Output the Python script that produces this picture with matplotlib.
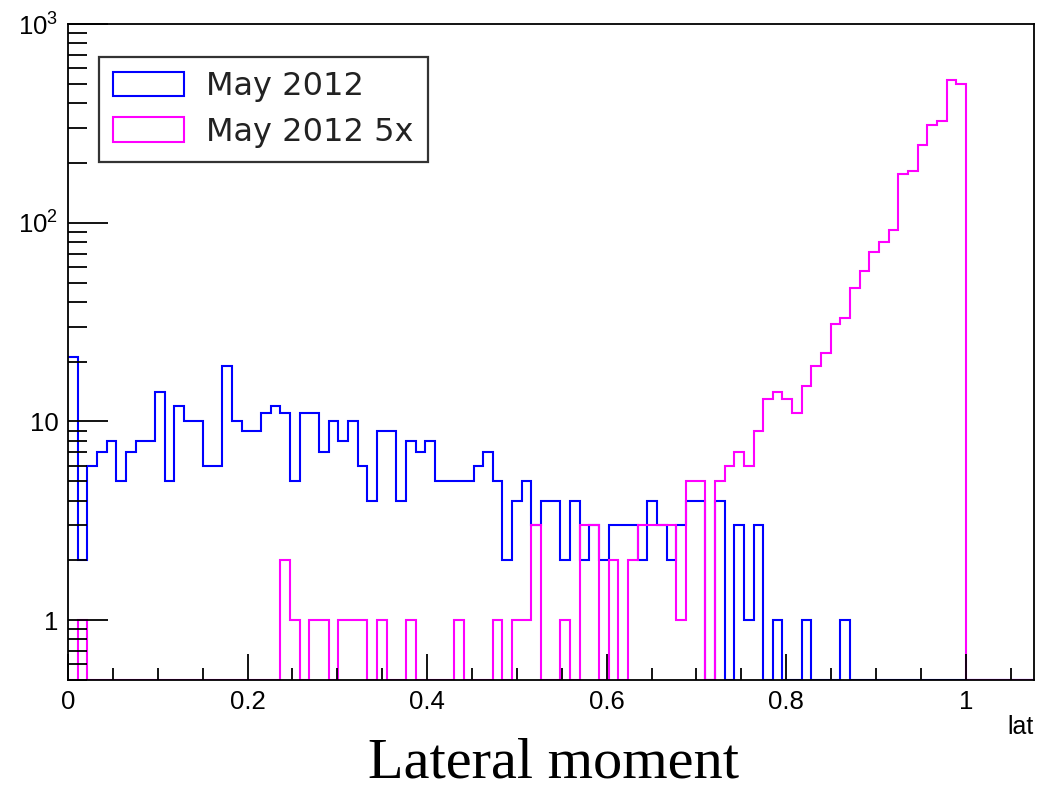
import matplotlib.pyplot as plt
import numpy as np
from matplotlib.patches import Patch
from matplotlib.ticker import FixedLocator, FuncFormatter, NullFormatter

# histogram range: 100 bins between 0 and the x-axis end
n_bins = 100
x_max = 1.0755

may2012 = [21, 2, 6, 7, 8, 5, 7, 8, 8, 14,
           5, 12, 10, 10, 6, 6, 19, 10, 9, 9,
           11, 12, 11, 5, 11, 11, 7, 10, 8, 10,
           6, 4, 9, 9, 4, 8, 7, 8, 5, 5,
           5, 5, 6, 7, 5, 2, 4, 5, 3, 4,
           4, 2, 4, 2, 3, 2, 3, 3, 3, 2,
           4, 3, 2, 3, 4, 4, 0, 4, 0, 3,
           1, 3, 0, 1, 0, 0, 1, 0, 0, 0,
           1, 0, 0, 0, 0, 0, 0, 0, 0, 0,
           0, 0, 0, 0, 0, 0, 0, 0, 0, 0]

may2012_5x = [0, 1, 0, 0, 0, 0, 0, 0, 0, 0,
              0, 0, 0, 0, 0, 0, 0, 0, 0, 0,
              0, 0, 2, 1, 0, 1, 1, 0, 1, 1,
              1, 0, 1, 0, 0, 1, 0, 0, 0, 0,
              1, 0, 0, 0, 1, 0, 1, 1, 3, 0,
              0, 1, 0, 3, 3, 0, 2, 0, 2, 3,
              3, 3, 3, 1, 5, 5, 0, 5, 6, 7,
              6, 9, 13, 14, 13, 11, 15, 19, 22, 31,
              33, 47, 57, 71, 80, 92, 176, 182, 246, 312,
              324, 521, 498, 0, 0, 0, 0, 0, 0, 0]

labels = ["May 2012", "May 2012 5x"]
colors = ["#0000ff", "#ff00ff"]

y_min, y_max = 0.5, 1000

edges = np.linspace(0, x_max, n_bins + 1)

fig = plt.figure(figsize=(10.42, 7.91), dpi=100)
ax = fig.add_axes([68 / 1042, 1 - 680 / 791, 965.5 / 1042, 656 / 791])

for vals, c in zip([may2012, may2012_5x], colors):
    v = np.array(vals, dtype=float)
    v = np.where(v > 0, v, y_min)  # empty bins sit on the bottom of the frame
    ax.stairs(v, edges, baseline=None, color=c, linewidth=1.5)

ax.set_yscale("log")
ax.set_xlim(0, x_max)
ax.set_ylim(y_min, y_max)

# ROOT-like ticks: inside, left and bottom only
ax.xaxis.set_major_locator(FixedLocator([0, 0.2, 0.4, 0.6, 0.8, 1.0]))
ax.xaxis.set_minor_locator(FixedLocator(np.arange(0, 1.07, 0.05)))
ax.xaxis.set_major_formatter(FuncFormatter(lambda v, p: "%g" % round(v, 2)))

ylab = {1: "1", 10: "10", 100: "$\\mathregular{10^2}$", 1000: "$\\mathregular{10^3}$"}
ax.yaxis.set_major_locator(FixedLocator([1, 10, 100, 1000]))
ax.yaxis.set_major_formatter(FuncFormatter(lambda v, p: ylab.get(int(round(v)), "")))
minor_y = [m * 10.0 ** e for e in range(-1, 3) for m in range(2, 10)]
ax.yaxis.set_minor_locator(FixedLocator([t for t in minor_y if y_min <= t <= y_max]))
ax.yaxis.set_minor_formatter(NullFormatter())

ax.tick_params(which="both", direction="in", top=False, right=False, width=1.3,
               labelsize=18.5, labelfontfamily="Liberation Sans")
ax.tick_params(axis="x", which="major", length=19, pad=7)
ax.tick_params(axis="x", which="minor", length=9)
ax.tick_params(axis="y", which="major", length=29, pad=7)
ax.tick_params(axis="y", which="minor", length=14)
for s in ax.spines.values():
    s.set_linewidth(1.3)

fig.text(1034 / 1042, 1 - 727 / 791, "lat", ha="right", va="center",
         fontsize=18, family="Liberation Sans")

handles = [Patch(facecolor="white", edgecolor=c, linewidth=1.5) for c in colors]
leg = ax.legend(handles, labels, loc="upper left",
                bbox_to_anchor=(99 / 1042, 1 - 57 / 791), bbox_transform=fig.transFigure,
                borderaxespad=0, fontsize=23, handlelength=2.2, handleheight=0.8,
                handletextpad=0.7, labelspacing=0.45, borderpad=0.45,
                fancybox=False, framealpha=1, edgecolor="#333333")
leg.get_frame().set_linewidth(1.6)
for t in leg.get_texts():
    t.set_color("#222222")

fig.text(553 / 1042, 1.5 / 791, "Lateral moment", ha="center", va="bottom",
         fontsize=42, family="Liberation Serif")

fig.savefig("out.png", dpi=100)
